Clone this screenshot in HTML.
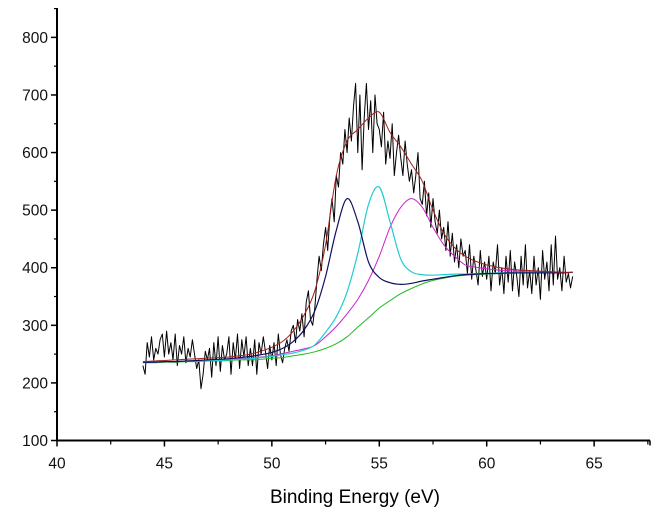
<!DOCTYPE html>
<html><head><meta charset="utf-8"><style>
html,body{margin:0;padding:0;background:#fff;}
svg{display:block;font-family:"Liberation Sans",Arial,sans-serif;}
</style></head>
<body>
<svg id="chart" width="665" height="520" viewBox="0 0 665 520" xmlns="http://www.w3.org/2000/svg">
<g id="axes"></g>
<g id="series"></g>
<text x="355" y="503" font-size="19" text-anchor="middle" fill="#000">Binding Energy (eV)</text>
</svg>
<script>
const xTicks = [40,45,50,55,60,65];
const yTicks = [100,200,300,400,500,600,700,800];
const fitX = [44,44.5,45,45.5,46,46.5,47,47.5,48,48.5,49,49.5,50,50.5,51,51.5,52,52.5,53,53.5,54,54.5,55,55.5,56,56.5,57,57.5,58,58.5,59,59.5,60,60.5,61,61.5,62,62.5,63,63.5,64];
const background = [235,235,236,236,237,237,238,238,239,240,240,241,243,244,247,250,254,260,268,280,297,313,330,343,355,364,372,378,382,385,387,388,389,390,390,391,391,391,391,391,392];
const peak1 = [236,236,237,237,238,239,240,241,242,244,246,249,253,260,272,292,325,385,465,520,480,410,383,374,371,373,377,380,383,386,388,389,390,390,391,391,391,391,391,391,392];
const peak2 = [236,236,237,237,238,238,239,239,240,241,242,244,246,249,252,257,266,288,315,358,425,510,540,480,415,393,388,387,388,389,389,390,390,391,391,391,391,391,391,391,392];
const peak3 = [236,236,237,237,238,238,239,240,241,242,243,245,247,251,255,259,265,280,298,320,345,378,420,470,505,520,505,470,440,420,405,401,398,396,395,394,394,393,393,392,392];
const envelope = [237,238,239,240,241,242,243,244,245,247,250,255,262,272,290,318,360,440,560,620,640,660,670,635,610,580,550,500,460,435,420,411,405,401,398,396,395,394,393,392,392];
const rawStart = 44, rawStep = 0.1;
const rawCounts = [
230,215,270,245,280,240,260,250,275,285,
245,290,250,270,240,285,230,265,250,280,
235,260,245,275,250,225,240,190,215,255,
240,260,210,270,230,280,220,265,240,250,
280,215,270,240,285,225,275,245,280,230,
260,230,275,215,270,250,280,255,225,265,
240,270,230,285,250,235,260,275,255,290,
300,270,310,290,320,280,340,360,310,300,
330,380,420,395,440,470,430,490,520,480,
560,540,600,580,640,600,660,620,680,720,
600,700,570,660,720,640,690,600,700,650,
640,610,670,580,620,590,650,560,600,630,
590,560,620,580,550,570,530,560,600,520,
510,550,490,530,470,520,480,460,500,450,
470,430,480,420,460,410,440,400,450,420,
430,390,440,380,420,395,370,430,385,410,
380,420,360,410,390,440,370,400,355,420,
375,430,360,410,385,350,420,370,440,365,
395,355,420,370,400,345,430,380,410,360,
440,370,455,380,400,360,420,375,390,365,
385];

const X0=57, X1=650, Y0=440.5, YT=8;
const xMin=40, xMax=67.6, yMin=100, yMax=851;
function sx(v){return X0+(v-xMin)/(xMax-xMin)*(X1-X0);}
function sy(v){return Y0-(v-yMin)/(yMax-yMin)*(Y0-YT);}
const NS="http://www.w3.org/2000/svg";
function mk(tag,attrs,parent){const e=document.createElementNS(NS,tag);for(const k in attrs)e.setAttribute(k,attrs[k]);parent.appendChild(e);return e;}
const axes=document.getElementById('axes');
const ser=document.getElementById('series');

let e=mk('line',{x1:X0,y1:YT,x2:X0,y2:Y0,stroke:'#000','stroke-width':2},axes);


e=mk('line',{x1:X0,y1:Y0,x2:X1,y2:Y0,stroke:'#000','stroke-width':2},axes);



yTicks.forEach((t,i)=>{
  const y=sy(t);
  let l=mk('line',{x1:X0-6,y1:y,x2:X0,y2:y,stroke:'#000','stroke-width':1.5},axes);
  
  
  let m=mk('line',{x1:X0-3,y1:sy(t+50),x2:X0,y2:sy(t+50),stroke:'#000','stroke-width':1.2},axes);
  
  
  let tx=mk('text',{x:X0-9,y:y+5.5,'font-size':15.5,'text-anchor':'end',fill:'#111'},axes);
  tx.textContent=t;
  
  
});
xTicks.forEach(t=>{
  const x=sx(t);
  let l=mk('line',{x1:x,y1:Y0,x2:x,y2:Y0+6,stroke:'#000','stroke-width':1.5},axes);
  
  
  if(sx(t+2.5)<=X1+1){
    let m=mk('line',{x1:sx(t+2.5),y1:Y0,x2:sx(t+2.5),y2:Y0+4,stroke:'#000','stroke-width':1.2},axes);
    
    
  }
  let tx=mk('text',{x:x,y:Y0+28,'font-size':15.5,'text-anchor':'middle',fill:'#111'},axes);
  tx.textContent=t;
  
  
});
let endTick=mk('line',{x1:X1,y1:Y0,x2:X1,y2:Y0+5,stroke:'#000','stroke-width':1.5},axes);



function poly(xs,ys,color,name,w){
  const pts=ys.map((v,i)=>sx(xs[i]).toFixed(1)+','+sy(v).toFixed(1)).join(' ');
  const p=mk('polyline',{points:pts,fill:'none',stroke:color,'stroke-width':w,'stroke-linejoin':'round'},ser);
  
  
}
function smooth(xs,ys,color,name,w){
  const P=ys.map((v,i)=>[sx(xs[i]),sy(v)]);
  let d='M'+P[0][0].toFixed(1)+','+P[0][1].toFixed(1);
  for(let i=0;i<P.length-1;i++){
    const p0=P[i-1]||P[i],p1=P[i],p2=P[i+1],p3=P[i+2]||P[i+1];
    const c1=[p1[0]+(p2[0]-p0[0])/6,p1[1]+(p2[1]-p0[1])/6];
    const c2=[p2[0]-(p3[0]-p1[0])/6,p2[1]-(p3[1]-p1[1])/6];
    d+=' C'+c1[0].toFixed(1)+','+c1[1].toFixed(1)+' '+c2[0].toFixed(1)+','+c2[1].toFixed(1)+' '+p2[0].toFixed(1)+','+p2[1].toFixed(1);
  }
  const p=mk('path',{d:d,fill:'none',stroke:color,'stroke-width':w},ser);
  
  
}
const rawX=rawCounts.map((_,i)=>rawStart+i*rawStep);
poly(rawX,rawCounts,'#000','raw-spectrum',1);
smooth(fitX,background,'#22bb22','background-curve',1);
smooth(fitX,peak3,'#cc22cc','peak-3-curve',1);
smooth(fitX,peak2,'#22cccc','peak-2-curve',1.2);
smooth(fitX,peak1,'#101060','peak-1-curve',1.2);
smooth(fitX,envelope,'#a02020','envelope-fit',1);
</script>
</body></html>
